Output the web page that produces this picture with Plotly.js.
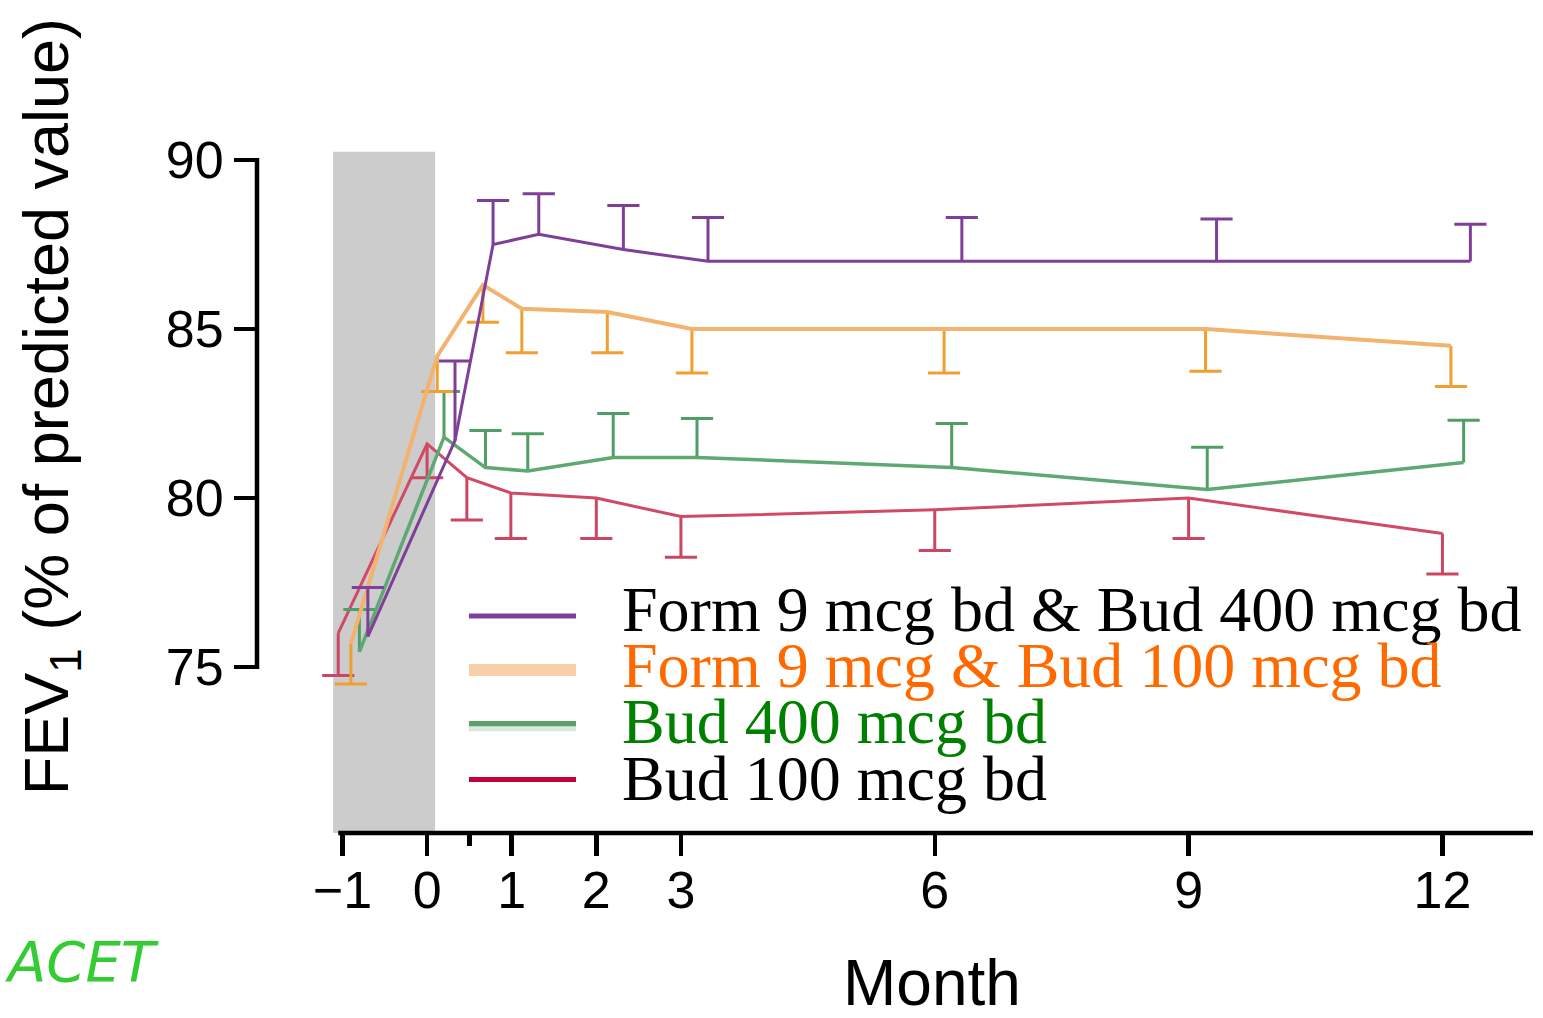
<!DOCTYPE html>
<html><head><meta charset="utf-8">
<script src="https://cdn.plot.ly/plotly-3.0.1.min.js"></script>
<style>html,body{margin:0;padding:0;background:#fff}#chart{width:1543px;height:1018px}</style>
</head><body><div id="chart"></div>
<script>
// ---- data ----
const xTickVals = [-1, 0, 1, 2, 3, 6, 9, 12];
const xTickText = ['\u22121', '0', '1', '2', '3', '6', '9', '12'];
const yTickVals = [75, 80, 85, 90];
const seriesNames = ['Form 9 mcg bd & Bud 400 mcg bd', 'Form 9 mcg & Bud 100 mcg bd', 'Bud 400 mcg bd', 'Bud 100 mcg bd'];

const purpleMonth = [-0.7, 0.33, 0.78, 1.32, 2.32, 3.32, 6.32, 9.33, 12.33];
const purpleFEV   = [75.9, 81.7, 87.5, 87.8, 87.35, 87.0, 87.0, 87.0, 87.0];
const purpleErrUp = [1.45, 2.35, 1.3, 1.2, 1.3, 1.3, 1.3, 1.25, 1.1];

const orangeMonth   = [-0.9, 0.12, 0.66, 1.12, 2.13, 3.13, 6.11, 9.2, 12.1];
const orangeFEV     = [75.7, 84.2, 86.3, 85.6, 85.5, 85.0, 85.0, 85.0, 84.5];
const orangeErrDown = [1.2, 1.05, 1.1, 1.3, 1.2, 1.3, 1.3, 1.25, 1.2];

const greenMonth = [-0.8, 0.2, 0.69, 1.19, 2.2, 3.19, 6.2, 9.22, 12.25];
const greenFEV   = [75.45, 81.8, 80.9, 80.8, 81.2, 81.2, 80.9, 80.25, 81.05];
const greenErrUp = [1.25, 1.35, 1.1, 1.1, 1.3, 1.15, 1.3, 1.25, 1.25];

const redMonth   = [-1.05, 0.0, 0.47, 0.99, 2.0, 3.0, 6.0, 9.0, 12.0];
const redFEV     = [76.0, 81.6, 80.6, 80.15, 80.0, 79.45, 79.65, 80.0, 78.95];
const redErrDown = [1.25, 1.0, 1.25, 1.35, 1.2, 1.2, 1.2, 1.2, 1.2];

// ---- styles ----
const C = {
  purple: '#7f3f98', orange: '#f3b26e', orangeErr: '#f0a030',
  green: '#5ea872', greenErr: '#4f9e66', red: '#d04a66', redErr: '#cc4563'
};
const capHalf = 0.19; // months

function errTrace(xs, ys, errs, dir, color) {
  const X = [], Y = [];
  for (let i = 0; i < xs.length; i++) {
    const ye = ys[i] + dir * errs[i];
    X.push(xs[i], xs[i], null, xs[i] - capHalf, xs[i] + capHalf, null);
    Y.push(ys[i], ye, null, ye, ye, null);
  }
  return {x: X, y: Y, mode: 'lines', line: {color: color, width: 3}, hoverinfo: 'skip', showlegend: false};
}
function lineTrace(xs, ys, color, width, name) {
  return {x: xs, y: ys, mode: 'lines', name: name, line: {color: color, width: width}, showlegend: false};
}

const traces = [
  errTrace(redMonth, redFEV, redErrDown, -1, C.redErr),
  lineTrace(redMonth, redFEV, C.red, 3, seriesNames[3]),
  errTrace(greenMonth, greenFEV, greenErrUp, 1, C.greenErr),
  lineTrace(greenMonth, greenFEV, C.green, 3.5, seriesNames[2]),
  errTrace(orangeMonth, orangeFEV, orangeErrDown, -1, C.orangeErr),
  lineTrace(orangeMonth, orangeFEV, C.orange, 4, seriesNames[1]),
  errTrace(purpleMonth, purpleFEV, purpleErrUp, 1, C.purple),
  lineTrace(purpleMonth, purpleFEV, C.purple, 3, seriesNames[0])
];

const tickFont = {family: 'Liberation Sans, Arial, sans-serif', size: 52, color: '#000'};
const legFont = 'Liberation Serif, Times New Roman, serif';

const legendRows = [
  {y: 0.3131, ty: 0.3232, color: C.purple, w: 5, text: seriesNames[0], tc: '#000000'},
  {y: 0.2352, ty: 0.2417, color: '#f7cfa8', w: 12, text: seriesNames[1], tc: '#ff6a00'},
  {y: 0.1544, ty: 0.1602, color: '#7ab086', w: 10, text: seriesNames[2], tc: '#008000'},
  {y: 0.0772, ty: 0.0786, color: '#c4003a', w: 5, text: seriesNames[3], tc: '#000000'}
];

const shapes = [
  {type: 'rect', xref: 'x', yref: 'y', x0: -1.11, x1: 0.095, y0: 70.09, y1: 90.24,
   fillcolor: '#cccccc', line: {width: 0}, layer: 'below'},
  {type: 'line', xref: 'x', yref: 'paper', x0: -1.05, x1: 13.07, y0: 0, y1: 0,
   line: {color: '#000', width: 4.5}},
  {type: 'line', xref: 'paper', yref: 'y', x0: 0, x1: 0, y0: 74.94, y1: 90.06,
   line: {color: '#000', width: 4.5}}
];
const annotations = [];
legendRows.forEach(r => {
  shapes.push({type: 'line', xref: 'paper', yref: 'paper', x0: 0.1661, x1: 0.25, y0: r.y, y1: r.y,
               line: {color: r.color, width: r.w}});
  annotations.push({xref: 'paper', yref: 'paper', x: 0.2845, y: r.ty, xanchor: 'left', yanchor: 'middle',
                    text: r.text, showarrow: false, font: {family: legFont, size: 64, color: r.tc}});
});
// green legend line is two-tone
shapes.push({type: 'line', xref: 'paper', yref: 'paper', x0: 0.1661, x1: 0.25, y0: 0.1580, y1: 0.1580,
             line: {color: '#5f9f6e', width: 5}});
shapes.push({type: 'line', xref: 'paper', yref: 'paper', x0: 0.1661, x1: 0.25, y0: 0.1505, y1: 0.1505,
             line: {color: '#d8e8dc', width: 5}});

annotations.push({xref: 'paper', yref: 'paper', x: -0.162, y: 0.6147, textangle: -90,
  xanchor: 'center', yanchor: 'middle', showarrow: false,
  text: 'FEV<sub>1</sub> (% of predicted value)',
  font: {family: 'Liberation Sans, Arial, sans-serif', size: 63, color: '#000'}});
annotations.push({xref: 'paper', yref: 'paper', x: 0.529, y: -0.2165, xanchor: 'center', yanchor: 'middle',
  showarrow: false, text: 'Month', font: {family: 'Liberation Sans, Arial, sans-serif', size: 64, color: '#000'}});
annotations.push({xref: 'paper', yref: 'paper', x: -0.1375, y: -0.1861, xanchor: 'center', yanchor: 'middle',
  showarrow: false, text: 'ACET', font: {family: 'DejaVu Sans, sans-serif', size: 56, color: '#33cc33', style: 'italic'}});

const layout = {
  width: 1543, height: 1018,
  margin: {l: 257, r: 10, t: 140, b: 185},
  paper_bgcolor: '#fff', plot_bgcolor: '#fff',
  showlegend: false,
  xaxis: {range: [-2.01, 13.07], tickmode: 'array', tickvals: xTickVals, ticktext: xTickText,
    ticks: 'outside', ticklen: 22, tickwidth: 4.5, tickcolor: '#000', showline: false, showgrid: false,
    zeroline: false, tickfont: tickFont, ticklabelstandoff: -10,
    minor: {tickmode: 'array', tickvals: [0.5], ticks: 'outside', ticklen: 12, tickwidth: 4.5, tickcolor: '#000', showgrid: false}},
  yaxis: {range: [70.09, 90.59], tickmode: 'array', tickvals: yTickVals,
    ticks: 'outside', ticklen: 22, tickwidth: 4.5, tickcolor: '#000', showline: false, showgrid: false,
    zeroline: false, tickfont: tickFont},
  shapes: shapes,
  annotations: annotations
};

Plotly.newPlot('chart', traces, layout, {displayModeBar: false, staticPlot: true});
</script>
</body></html>
